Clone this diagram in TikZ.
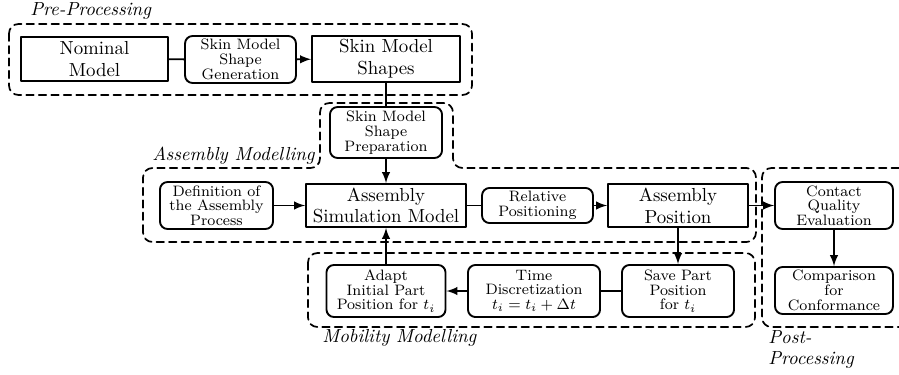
\documentclass[tikz,border=0pt]{standalone}
\begin{document}
\begin{tikzpicture}[x=0.53pt, y=-0.53pt, line join=round, line cap=round, >=latex,
	bigbox/.style={draw, line width=1pt, align=center, inner sep=0pt, font=\fontsize{10}{11.5}\selectfont},
	smallbox/.style={draw, line width=1pt, rounded corners=4pt, align=center, inner sep=0pt, font=\fontsize{8}{7.8}\selectfont},
	region/.style={line width=0.9pt, dash pattern=on 4pt off 2.6pt, rounded corners=5pt},
	lbl/.style={font=\itshape, inner sep=0pt}]
		\useasboundingbox (0,0) rectangle (899,374);
		% boxes
		\node[bigbox, minimum width=77.9pt, minimum height=23.3pt] (nom) at (94.5,59) {Nominal\\Model};
		\node[smallbox, minimum width=58.8pt, minimum height=24.9pt] (gen) at (240.5,59.5) {Skin Model\\Shape\\Generation};
		\node[bigbox, minimum width=78.4pt, minimum height=24.4pt] (shapes) at (386,59) {Skin Model\\Shapes};
		\node[smallbox, minimum width=59.4pt, minimum height=27pt] (prep) at (386,132.5) {Skin Model\\Shape\\Preparation};
		\node[smallbox, minimum width=59.9pt, minimum height=24.9pt] (def) at (216.5,205.5) {Definition of\\the Assembly\\Process};
		\node[bigbox, minimum width=84.8pt, minimum height=22.8pt] (asm) at (386,205.5) {Assembly\\Simulation Model};
		\node[smallbox, minimum width=58.8pt, minimum height=18.6pt] (rel) at (537.5,205.5) {Relative\\Positioning};
		\node[bigbox, minimum width=74.2pt, minimum height=22.8pt] (apos) at (678,205.5) {Assembly\\Position};
		\node[smallbox, minimum width=62.5pt, minimum height=24.9pt] (cqe) at (834,205.5) {Contact\\Quality\\Evaluation};
		\node[smallbox, minimum width=62.5pt, minimum height=24.9pt] (conf) at (834,290.5) {Comparison\\for\\Conformance};
		\node[smallbox, minimum width=59.4pt, minimum height=27.6pt] (save) at (678,291) {Save Part\\Position\\for $t_i$};
		\node[smallbox, minimum width=70pt, minimum height=27.6pt] (time) at (534,291) {Time\\Discretization\\$t_i = t_i + \Delta t$};
		\node[smallbox, minimum width=63.1pt, minimum height=27.6pt] (adapt) at (386,291) {Adapt\\Initial Part\\Position for $t_i$};
		% regions
		\draw[region] (9,24) rectangle (472,95);
		\draw[region] (143,242) -- (143,168) -- (320,168) -- (320,103) -- (453,103) -- (453,168) -- (756,168) -- (756,242) -- cycle;
		\draw[region] (308,253) rectangle (755,327);
		\draw[region] (899,168) -- (762,168) -- (762,327) -- (899,327);
		\node[lbl, anchor=west] (prelbl) at (30,11) {Pre-Processing};
		\node[lbl, anchor=east] (asmlbl) at (315,156) {Assembly Modelling};
		\node[lbl, anchor=west] (moblbl) at (322,338) {Mobility Modelling};
		\node[lbl, anchor=north west, align=left, font=\itshape\fontsize{10}{11}\selectfont] (postlbl) at (768,330) {Post-\\Processing};
		% connectors
		\foreach \a/\b in {nom/gen, shapes/prep, asm/rel, save/time}
		\draw[line width=1pt] (\a) -- (\b);
		\foreach \a/\b in {gen/shapes, prep/asm, def/asm, rel/apos, apos/cqe, cqe/conf, apos/save, time/adapt, adapt/asm}
		\draw[line width=1pt, ->] (\a) -- (\b);
	\end{tikzpicture}
\end{document}
